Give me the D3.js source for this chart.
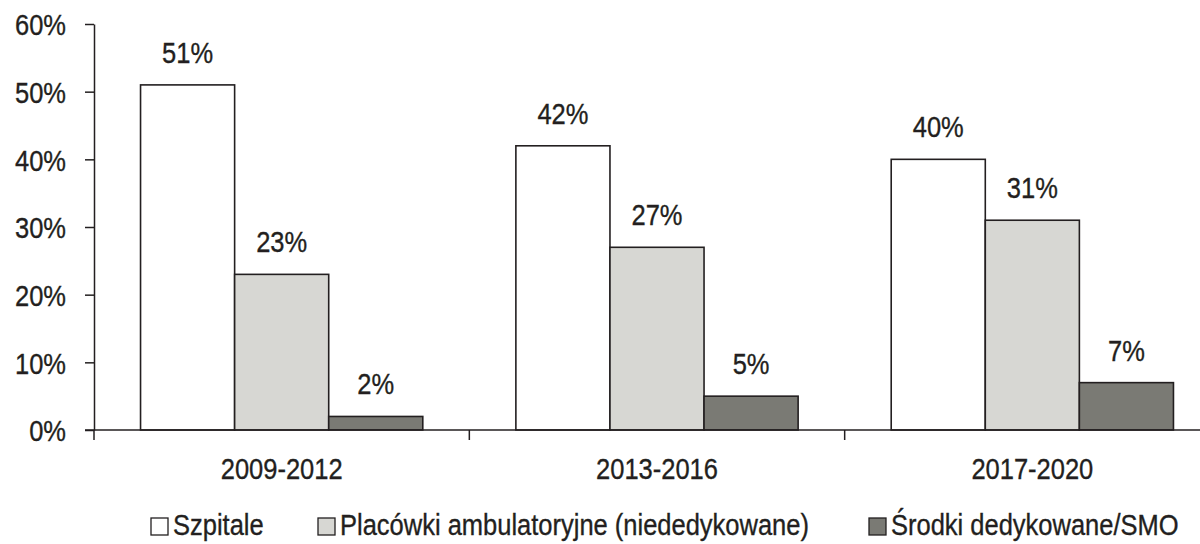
<!DOCTYPE html>
<html><head><meta charset="utf-8">
<script src="https://cdn.jsdelivr.net/npm/d3@7"></script>
<style>
html,body{margin:0;padding:0;background:#fff;}
text{font-family:"Liberation Sans",Arial,sans-serif;fill:#231f20;stroke:#231f20;stroke-width:0.35px;}
</style></head>
<body><svg id="c" width="1200" height="544"></svg>
<script>
const categories = ["2009-2012","2013-2016","2017-2020"];
const seriesNames = ["Szpitale","Placówki ambulatoryjne (niededykowane)","Środki dedykowane/SMO"];
const szpitale = [51,42,40];
const placowki = [23,27,31];
const srodki = [2,5,7];
const yTicks = [0,10,20,30,40,50,60];

const seriesValues = [szpitale, placowki, srodki];
const colors = ["#ffffff","#d7d7d3","#7a7a74"];
const FS = 30, SX = 0.85;
const place = (sel, x, y) => sel.attr("transform", (d,i) => `translate(${typeof x==="function"?x(d,i):x},${typeof y==="function"?y(d,i):y}) scale(${SX},1)`);

const svg = d3.select("#c");
const x0 = d3.scaleBand().domain(categories).range([94,1220]).paddingInner(0.248).paddingOuter(0.124);
const y = d3.scaleLinear().domain([0,60]).range([430,24]);
const x1 = d3.scaleBand().domain(d3.range(3)).range([0,x0.bandwidth()]);

// y axis
const yAxis = d3.axisLeft(y).tickValues(yTicks).tickFormat(d=>d+"%").tickSize(9).tickSizeOuter(0);
const gy = svg.append("g").attr("transform","translate(94,0)").call(yAxis);
gy.select(".domain").attr("stroke","#231f20").attr("stroke-width",1.5);
gy.selectAll(".tick line").attr("stroke","#231f20").attr("stroke-width",1.5);
const yt = gy.selectAll(".tick text").attr("font-size",FS).attr("x",0).attr("dy","0.36em").attr("fill","#231f20").style("font-family",null);
place(yt, -28, 0);

// bars
const groups = svg.append("g").selectAll("g").data(categories).join("g")
  .attr("transform",d=>`translate(${x0(d)},0)`);
groups.selectAll("rect").data((d,i)=>seriesValues.map((s,k)=>({k,v:s[i]}))).join("rect")
  .attr("x",d=>x1(d.k)).attr("width",x1.bandwidth())
  .attr("y",d=>y(d.v)).attr("height",d=>y(0)-y(d.v))
  .attr("fill",d=>colors[d.k]).attr("stroke","#231f20").attr("stroke-width",1.6);
const vl = groups.selectAll("text").data((d,i)=>seriesValues.map((s,k)=>({k,v:s[i]}))).join("text")
  .attr("text-anchor","middle").attr("font-size",FS).text(d=>d.v+"%");
place(vl, d=>x1(d.k)+x1.bandwidth()/2, d=>y(d.v)-22);

// x axis
const xAxisScale = d3.scaleLinear().domain([0,3]).range([94,1220]);
const gx = svg.append("g").attr("transform","translate(0,430)");
gx.append("line").attr("x1",85).attr("x2",1220).attr("y1",0).attr("y2",0).attr("stroke","#231f20").attr("stroke-width",1.5);
gx.selectAll("line.t").data(d3.range(4)).join("line").attr("class","t")
  .attr("x1",d=>xAxisScale(d)).attr("x2",d=>xAxisScale(d)).attr("y1",0).attr("y2",10)
  .attr("stroke","#231f20").attr("stroke-width",1.5);
const xl = gx.selectAll("text").data(categories).join("text")
  .attr("text-anchor","middle").attr("font-size",FS).text(d=>d);
place(xl, d=>x0(d)+x0.bandwidth()/2, 49);

// legend
const legX = [151,318,869];
const leg = svg.append("g").selectAll("g").data(seriesNames).join("g")
  .attr("transform",(d,i)=>`translate(${legX[i]},518)`);
leg.append("rect").attr("width",17).attr("height",17).attr("fill",(d,i)=>colors[i])
  .attr("stroke","#231f20").attr("stroke-width",1.3);
place(leg.append("text").attr("font-size",FS).text(d=>d), 22, 17);
</script></body></html>
